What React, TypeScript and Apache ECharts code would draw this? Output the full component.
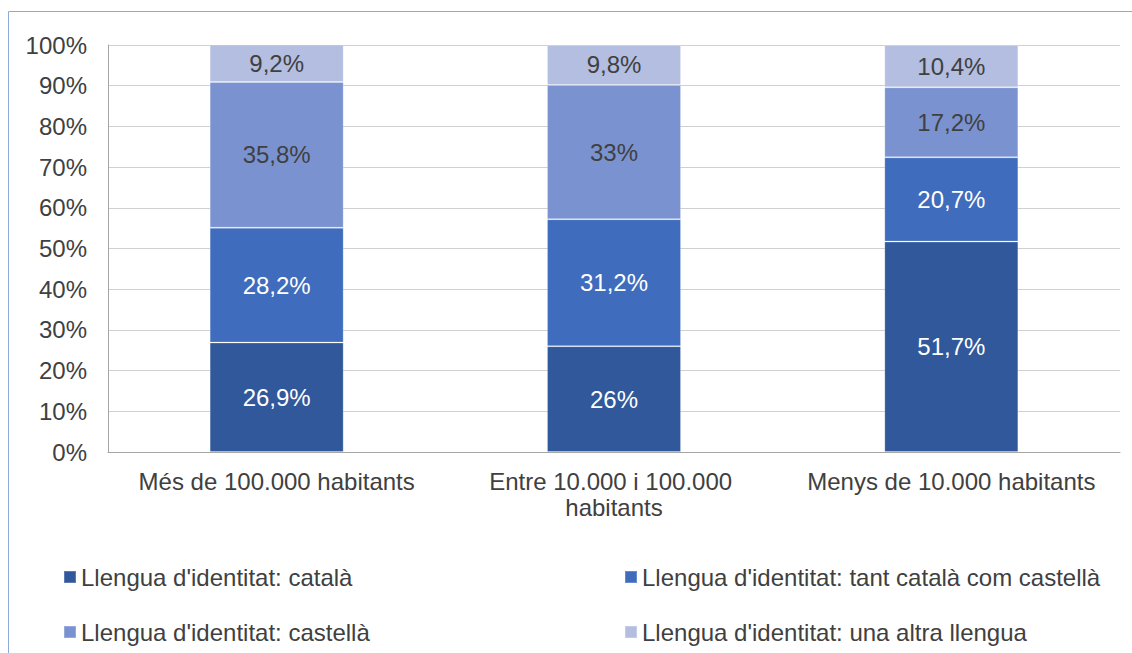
import React, { useEffect, useRef } from "react";
import * as echarts from "echarts";

const categories = [
  "Més de 100.000 habitants",
  "Entre 10.000 i 100.000 habitants",
  "Menys de 10.000 habitants",
];
const seriesNames = [
  "Llengua d'identitat: català",
  "Llengua d'identitat: tant català com castellà",
  "Llengua d'identitat: castellà",
  "Llengua d'identitat: una altra llengua",
];
const catala = [26.9, 26, 51.7];
const tant = [28.2, 31.2, 20.7];
const castella = [35.8, 33, 17.2];
const altra = [9.2, 9.8, 10.4];
const yTicks = [0, 10, 20, 30, 40, 50, 60, 70, 80, 90, 100];

const colors = ["#30589a", "#3f6cbc", "#7a93d0", "#b3bee0"];
const labelColors = ["#ffffff", "#ffffff", "#404040", "#404040"];
const FONT = "'Liberation Sans', Arial, sans-serif";
const FS = 24;

export default function App() {
  const ref = useRef<HTMLDivElement>(null);
  useEffect(() => {
    if (!ref.current) return;
    const chart = echarts.init(ref.current, undefined, { renderer: "svg" });
    const values = [catala, tant, castella, altra];
    const legendText = { color: "#404040", fontSize: FS, fontFamily: FONT, lineHeight: 26 };
    chart.setOption({
      animation: false,
      textStyle: { fontFamily: FONT },
      graphic: [
        {
          type: "rect",
          shape: { x: 8.5, y: 11.5, width: 1200, height: 800 },
          style: { fill: "none", stroke: "#8eaadb", lineWidth: 1 },
          silent: true,
        },
      ],
      grid: { left: 108, top: 45, right: 12, bottom: 201, containLabel: false },
      xAxis: {
        type: "category",
        data: categories,
        axisLine: { show: true, lineStyle: { color: "#a6a6a6", width: 1 } },
        axisTick: { show: false },
        axisLabel: {
          color: "#404040",
          fontSize: FS,
          fontFamily: FONT,
          lineHeight: 26,
          margin: 16,
          width: 305,
          overflow: "break",
          interval: 0,
        },
      },
      yAxis: {
        type: "value",
        min: yTicks[0],
        max: yTicks[yTicks.length - 1],
        interval: 10,
        axisLine: { show: true, lineStyle: { color: "#a6a6a6", width: 1 } },
        axisTick: { show: false },
        splitLine: { show: true, lineStyle: { color: "#d0d0d0", width: 1 } },
        axisLabel: {
          color: "#404040",
          fontSize: FS,
          fontFamily: FONT,
          margin: 21,
          formatter: (v: number) => `${v}%`,
        },
      },
      legend: [
        {
          data: [seriesNames[0], seriesNames[2]],
          orient: "vertical",
          left: 63,
          top: 564,
          padding: 0,
          itemWidth: 12,
          itemHeight: 12,
          itemGap: 29,
          icon: "rect",
          textStyle: legendText,
        },
        {
          data: [seriesNames[1], seriesNames[3]],
          orient: "vertical",
          left: 624,
          top: 564,
          padding: 0,
          itemWidth: 12,
          itemHeight: 12,
          itemGap: 29,
          icon: "rect",
          textStyle: legendText,
        },
      ],
      series: values.map((d, i) => ({
        name: seriesNames[i],
        type: "bar",
        stack: "total",
        data: d,
        barWidth: 134,
        itemStyle: {
          color: colors[i],
          borderColor: "rgba(255,255,255,0.22)",
          borderWidth: 1,
        },
        label: {
          show: true,
          position: "inside",
          color: labelColors[i],
          fontSize: FS,
          fontFamily: FONT,
          formatter: (p: any) => `${String(p.value).replace(".", ",")}%`,
        },
      })),
    });
    return () => chart.dispose();
  }, []);
  return (
    <div
      ref={ref}
      style={{ position: "fixed", left: 0, top: 0, width: 1132, height: 653, background: "#fff" }}
    />
  );
}
